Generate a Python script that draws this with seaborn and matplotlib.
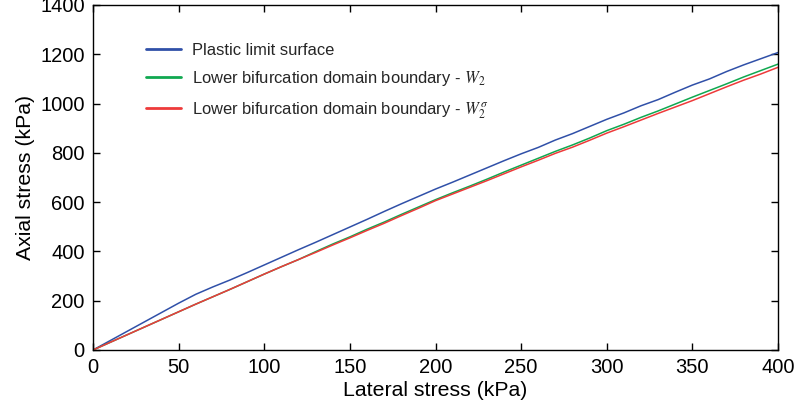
import numpy as np
import pandas as pd
import matplotlib
matplotlib.use("Agg")
import matplotlib.pyplot as plt
import seaborn as sns

# Lateral stress (kPa)
lateral = [0, 10, 20, 30, 40, 50, 60, 70, 80, 90, 100, 110, 120, 130, 140, 150, 160, 170, 180, 190,
           200, 210, 220, 230, 240, 250, 260, 270, 280, 290, 300, 310, 320, 330, 340, 350, 360, 370,
           380, 390, 400]

# Axial stress (kPa) for each curve
plastic_limit = [0, 38, 76, 114, 152, 190, 226, 256, 284, 314, 345, 376, 407, 437, 468, 499, 530,
                 562, 593, 623, 653, 681, 710, 739, 768, 796, 822, 852, 878, 907, 936, 962, 991,
                 1016, 1046, 1075, 1100, 1130, 1157, 1182, 1207]
w2 = [0, 31, 62, 93, 124, 155, 186, 216, 246, 277, 308, 338, 367, 399, 430, 459, 490, 519, 550,
      580, 610, 638, 665, 693, 722, 750, 778, 806, 832, 860, 890, 916, 944, 970, 998, 1026, 1053,
      1080, 1108, 1134, 1160]
w2_sigma = [0, 31, 62, 93, 124, 155, 186, 216, 246, 277, 308, 338, 367, 396, 426, 455, 485, 514,
            545, 575, 606, 633, 660, 687, 715, 743, 770, 798, 823, 851, 880, 906, 933, 960, 986,
            1012, 1040, 1068, 1095, 1120, 1147]

labels = ["Plastic limit surface",
          r"Lower bifurcation domain boundary - $W_2$",
          r"Lower bifurcation domain boundary - $W_2^{\sigma}$"]
colors = ["#3050a8", "#10a850", "#ee3a3a"]

df = pd.concat([
    pd.DataFrame({"lateral": lateral, "axial": ys, "curve": lab})
    for ys, lab in zip([plastic_limit, w2, w2_sigma], labels)
])

sns.set_theme(style="white")
plt.rcParams["font.family"] = ["Liberation Sans", "DejaVu Sans"]
plt.rcParams["mathtext.fontset"] = "stix"

fig = plt.figure(figsize=(7.95, 4.12), dpi=100)
ax = fig.add_axes([0.117, 0.1505, 0.8616, 0.8374])

sns.lineplot(data=df, x="lateral", y="axial", hue="curve", palette=colors,
             hue_order=labels, linewidth=1.1, ax=ax, legend=True)

ax.set_xlim(0, 400)
ax.set_ylim(0, 1400)
ax.set_xticks(np.arange(0, 401, 50))
ax.set_yticks(np.arange(0, 1401, 200))
ax.set_xlabel("Lateral stress (kPa)", fontsize=15.3, color="black", labelpad=3)
ax.set_ylabel("Axial stress (kPa)", fontsize=15.3, color="black", labelpad=4)
ax.tick_params(direction="in", length=5, width=1, labelsize=14.5, colors="black",
               top=True, right=True, bottom=True, left=True, pad=6)
for s in ax.spines.values():
    s.set_visible(True)
    s.set_color("black")
    s.set_linewidth(1.0)

leg = ax.legend(loc="upper left", bbox_to_anchor=(0.068, 0.91), frameon=False,
                fontsize=11.9, handlelength=2.1, labelspacing=0.7, handletextpad=0.7,
                borderaxespad=0.0)
for line in leg.get_lines():
    line.set_linewidth(2.0)

fig.savefig("out.png", dpi=100)
